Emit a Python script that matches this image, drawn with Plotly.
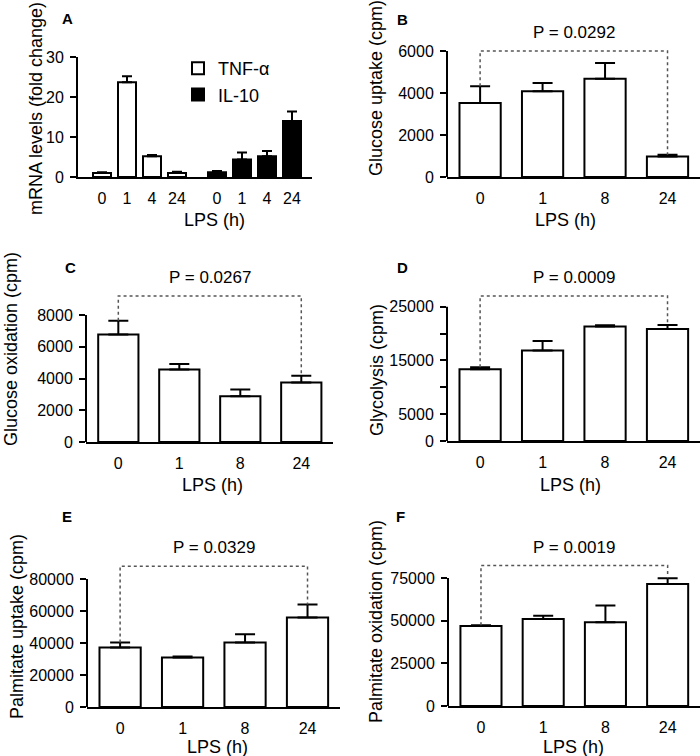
import plotly.graph_objects as go

# ---------------- data ----------------
lps_A = ["0", "1", "4", "24"]
tnf_alpha = [1.0, 23.7, 5.2, 1.0]
tnf_alpha_err = [0.2, 1.5, 0.3, 0.3]
il10 = [1.2, 4.4, 5.2, 14.0]
il10_err = [0.3, 1.7, 1.3, 2.4]

lps_hours = ["0", "1", "8", "24"]
glucose_uptake = [3520, 4080, 4680, 980]
glucose_uptake_err = [800, 400, 750, 80]
glucose_oxidation = [6780, 4570, 2880, 3750]
glucose_oxidation_err = [860, 340, 420, 420]
glycolysis = [13350, 16830, 21300, 20870]
glycolysis_err = [370, 1800, 250, 740]
palmitate_uptake = [37200, 30900, 40300, 56000]
palmitate_uptake_err = [3100, 600, 5200, 8100]
palmitate_oxidation = [46900, 50900, 49100, 71500]
palmitate_oxidation_err = [400, 2000, 9800, 3300]

p_labels = ["P = 0.0292", "P = 0.0267", "P = 0.0009", "P = 0.0329", "P = 0.0019"]

ticks_A = [0, 10, 20, 30]
ticks_B = [0, 2000, 4000, 6000]
ticks_C = [0, 2000, 4000, 6000, 8000]
ticks_D = [0, 5000, 10000, 15000, 20000, 25000]
ticklabels_D = ["0", "5000", "", "15000", "", "25000"]
ticks_E = [0, 20000, 40000, 60000, 80000]
ticks_F = [0, 25000, 50000, 75000]

# ---------------- style ----------------
FONT = "Liberation Sans, Arial, sans-serif"
TICKFONT = dict(family=FONT, size=16, color="black")
TITLEFONT = dict(family=FONT, size=18, color="black")
W, H = 700, 756


def px_x(p):
    return p / W


def px_y(p):
    return 1 - p / H


fig = go.Figure()

# ---------------- panel A ----------------
nA = len(lps_A)
group_gap = 0.6
xA_tnf = [i for i in range(nA)]
xA_il = [i + nA + group_gap for i in range(nA)]
err_style = dict(type="data", symmetric=False, color="black", thickness=2)

fig.add_trace(go.Bar(
    x=xA_tnf, y=tnf_alpha, name="TNF-α", width=0.72,
    marker=dict(color="white", line=dict(color="black", width=2)),
    error_y=dict(array=tnf_alpha_err, arrayminus=[0] * nA, width=5, **err_style),
    xaxis="x", yaxis="y", hoverinfo="skip"))
fig.add_trace(go.Bar(
    x=xA_il, y=il10, name="IL-10", width=0.72,
    marker=dict(color="black", line=dict(color="black", width=2)),
    error_y=dict(array=il10_err, arrayminus=[0] * nA, width=5, **err_style),
    xaxis="x", yaxis="y", hoverinfo="skip"))

layout = dict(
    width=W, height=H, margin=dict(l=0, r=0, t=0, b=0, autoexpand=False),
    paper_bgcolor="white", plot_bgcolor="white",
    barmode="overlay", font=dict(family=FONT, color="black"),
    showlegend=True,
    legend=dict(x=px_x(178), y=px_y(50), xanchor="left", yanchor="top",
                font=dict(family=FONT, size=18, color="black"),
                bgcolor="rgba(0,0,0,0)", itemwidth=30, tracegroupgap=0),
)

AX_COMMON_X = dict(showline=True, linecolor="black", linewidth=2, showgrid=False,
                   zeroline=False, ticks="", tickfont=TICKFONT, ticklabelstandoff=6,
                   automargin=False)
AX_COMMON_Y = dict(ticks="outside", ticklen=6, tickwidth=2, tickcolor="black",
                   showgrid=False, zeroline=False, tickfont=TICKFONT, automargin=False,
                   ticklabelstandoff=3, tickformat="d")

layout["xaxis"] = dict(domain=[px_x(78), px_x(312)], range=[-0.96, 8.4], anchor="y",
                       tickvals=xA_tnf + xA_il, ticktext=lps_A + lps_A, **AX_COMMON_X)
layout["yaxis"] = dict(domain=[px_y(177), px_y(57)], range=[0, 30], anchor="x",
                       tickvals=ticks_A, showline=True, linecolor="black", linewidth=2,
                       **AX_COMMON_Y)


def title_ann(text, cx, cy, angle=0):
    return dict(text=text, x=px_x(cx), y=px_y(cy), xref="paper", yref="paper",
                xanchor="center", yanchor="middle", showarrow=False, textangle=angle,
                font=TITLEFONT)


def letter_ann(letter, cx, cy):
    return dict(text=f"<b>{letter}</b>", x=px_x(cx), y=px_y(cy), xref="paper", yref="paper",
                showarrow=False, font=dict(family=FONT, size=15, color="black"))


annotations = [
    letter_ann("A", 60, 8),
    title_ann("mRNA levels (fold change)", 36, 109, -90),
    title_ann("LPS (h)", 214, 220),
]
shapes = []

# ---------------- panels B-F ----------------
panels = [
    dict(n=2, letter="B", title="Glucose uptake (cpm)", vals=glucose_uptake, err=glucose_uptake_err,
         ticks=ticks_B, ticktext=None, ymax=6300, bracket=6000, p=p_labels[0],
         xd=(447, 700), yd=(177, 44.7), lab=(402, 9), yt=(376, 88), xt=(565, 220)),
    dict(n=3, letter="C", title="Glucose oxidation (cpm)", vals=glucose_oxidation, err=glucose_oxidation_err,
         ticks=ticks_C, ticktext=None, ymax=9500, bracket=9200, p=p_labels[1],
         xd=(86, 333), yd=(442, 291.2), lab=(63, 268), yt=(11, 349), xt=(212, 485)),
    dict(n=4, letter="D", title="Glycolysis (cpm)", vals=glycolysis, err=glycolysis_err,
         ticks=ticks_D, ticktext=ticklabels_D, ymax=28000, bracket=27000, p=p_labels[2],
         xd=(447, 700), yd=(441, 290.6), lab=(402, 268), yt=(377, 370), xt=(570, 485)),
    dict(n=5, letter="E", title="Palmitate uptake (cpm)", vals=palmitate_uptake, err=palmitate_uptake_err,
         ticks=ticks_E, ticktext=None, ymax=90000, bracket=88000, p=p_labels[3],
         xd=(87, 340), yd=(707, 563), lab=(60, 527), yt=(17, 627), xt=(217, 747)),
    dict(n=6, letter="F", title="Palmitate oxidation (cpm)", vals=palmitate_oxidation, err=palmitate_oxidation_err,
         ticks=ticks_F, ticktext=None, ymax=84000, bracket=82300, p=p_labels[4],
         xd=(448, 700), yd=(706, 562.6), lab=(400, 527), yt=(376, 622), xt=(573, 747)),
]

xpos = list(range(len(lps_hours)))
for pnl in panels:
    n = pnl["n"]
    xa, ya = f"x{n}", f"y{n}"
    fig.add_trace(go.Bar(
        x=xpos, y=pnl["vals"], width=0.66, showlegend=False,
        marker=dict(color="white", line=dict(color="black", width=2)),
        error_y=dict(array=pnl["err"], arrayminus=[0] * len(xpos), width=10, **err_style),
        xaxis=xa, yaxis=ya, hoverinfo="skip"))
    # significance bracket between first and last group
    tops = [v + e for v, e in zip(pnl["vals"], pnl["err"])]
    fig.add_trace(go.Scatter(
        x=[xpos[0], xpos[0], xpos[-1], xpos[-1]],
        y=[tops[0], pnl["bracket"], pnl["bracket"], tops[-1]],
        mode="lines", line=dict(color="#555555", width=1.5, dash="dot"),
        showlegend=False, hoverinfo="skip", xaxis=xa, yaxis=ya))
    annotations.append(dict(text=pnl["p"], x=(xpos[0] + xpos[-1]) / 2, y=pnl["bracket"],
                            xref=xa, yref=ya, yanchor="bottom", yshift=7, showarrow=False,
                            font=dict(family=FONT, size=17, color="black")))
    annotations.append(letter_ann(pnl["letter"], *pnl["lab"]))
    annotations.append(title_ann(pnl["title"], *pnl["yt"], angle=-90))
    annotations.append(title_ann("LPS (h)", *pnl["xt"]))
    layout[f"xaxis{n}"] = dict(
        domain=[px_x(pnl["xd"][0]), px_x(pnl["xd"][1])], range=[-0.53, 3.52], anchor=ya,
        tickvals=xpos, ticktext=lps_hours, **AX_COMMON_X)
    yax = dict(
        domain=[px_y(pnl["yd"][0]), px_y(pnl["yd"][1])], range=[0, pnl["ymax"]], anchor=xa,
        tickvals=pnl["ticks"], showline=False, **AX_COMMON_Y)
    if pnl["ticktext"] is not None:
        yax["ticktext"] = pnl["ticktext"]
    layout[f"yaxis{n}"] = yax
    # y axis line only up to the highest tick
    shapes.append(dict(type="line", xref=f"{xa} domain", x0=0, x1=0, yref=ya,
                       y0=0, y1=pnl["ticks"][-1], line=dict(color="black", width=2)))

layout["annotations"] = annotations
layout["shapes"] = shapes
fig.update_layout(**layout)
fig.write_html("out.html", config={"displayModeBar": False},
               post_script="document.body.style.margin='0px';")
